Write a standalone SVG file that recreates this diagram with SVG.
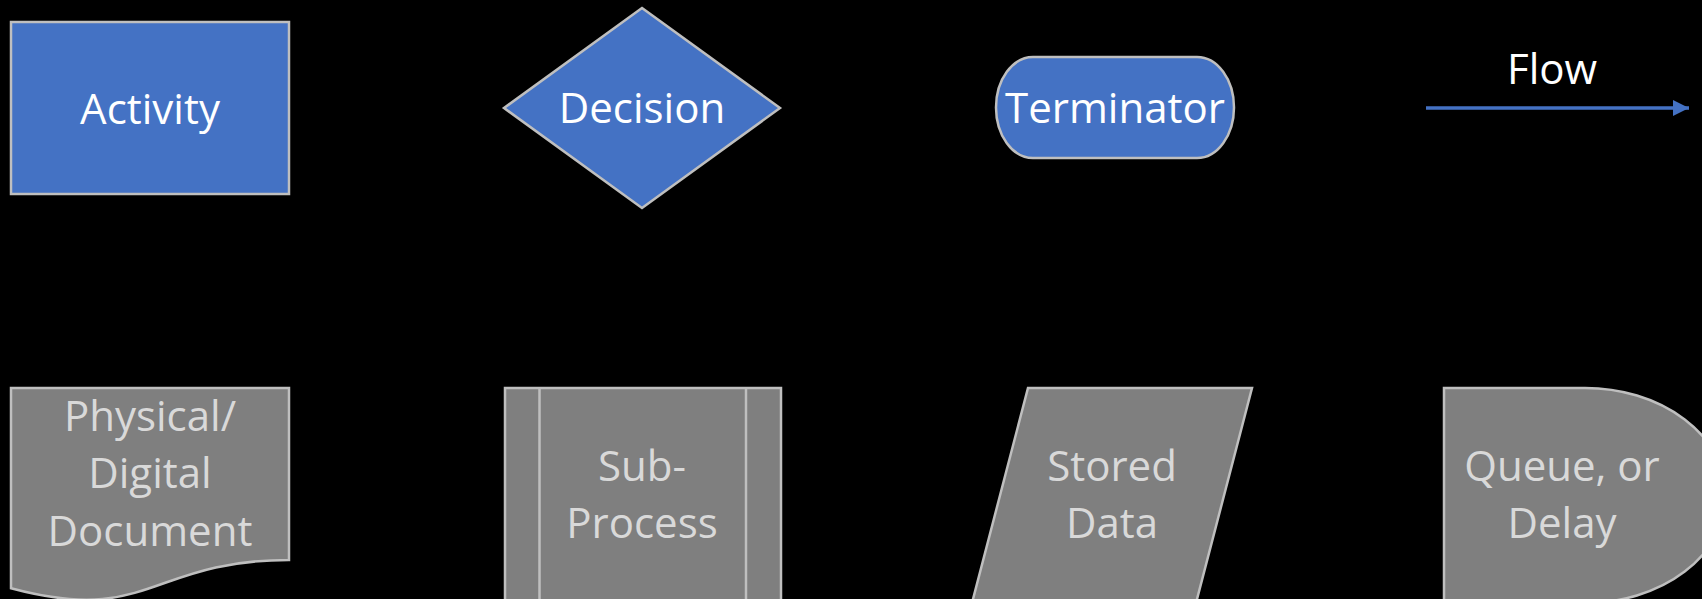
<svg xmlns="http://www.w3.org/2000/svg" width="1702" height="599" viewBox="0 0 1702 599">
  <defs>
    <style>
      .blue { fill: #4472C4; stroke: #BFBFBF; stroke-width: 2.5; }
      .gray { fill: #7F7F7F; stroke: #BFBFBF; stroke-width: 2.5; }
      .rule { stroke: #BFBFBF; stroke-width: 2.5; }
      .lbl { font-family: "Open Sans", "Liberation Sans", sans-serif; font-size: 42px; text-anchor: middle; }
      .lbl-w { fill: #FFFFFF; }
      .lbl-g { fill: #D9D9D9; }
      .flow { stroke: #4472C4; stroke-width: 3.4; fill: none; }
    </style>
    <marker id="arrow" markerUnits="userSpaceOnUse" markerWidth="16" markerHeight="16" refX="16" refY="8" orient="auto" viewBox="0 0 16 16">
      <path d="M0,0 L16,8 L0,16 Z" fill="#4472C4"/>
    </marker>
  </defs>
  <rect width="1702" height="599" fill="#000000"/>

  <!-- top row -->
  <g id="activity">
    <rect class="blue" x="11" y="22" width="278" height="172"/>
    <text class="lbl lbl-w" x="150" y="124">Activity</text>
  </g>
  <g id="decision">
    <path class="blue" d="M642,8 L780,108 L642,208 L504,108 Z"/>
    <text class="lbl lbl-w" x="642" y="123">Decision</text>
  </g>
  <g id="terminator">
    <rect class="blue" x="996" y="57" width="238" height="101" rx="37" ry="50.5"/>
    <text class="lbl lbl-w" x="1115" y="123">Terminator</text>
  </g>
  <g id="flow-label">
    <text class="lbl lbl-w" x="1552" y="84">Flow</text>
  </g>

  <!-- connectors -->
  <g id="connectors">
    <line class="flow" x1="1426" y1="108" x2="1689" y2="108" marker-end="url(#arrow)"/>
  </g>

  <!-- bottom row -->
  <g id="document">
    <path class="gray" d="M11,388 H289 V560 C150,560 150,625.5 11,588.3 Z"/>
    <text class="lbl lbl-g" x="150" y="431">Physical/</text>
    <text class="lbl lbl-g" x="150" y="488">Digital</text>
    <text class="lbl lbl-g" x="150" y="546">Document</text>
  </g>
  <g id="subprocess">
    <rect class="gray" x="505" y="388" width="276" height="215"/>
    <line class="rule" x1="539.5" y1="388" x2="539.5" y2="603"/>
    <line class="rule" x1="746" y1="388" x2="746" y2="603"/>
    <text class="lbl lbl-g" x="642" y="481">Sub-</text>
    <text class="lbl lbl-g" x="642" y="538">Process</text>
  </g>
  <g id="stored-data">
    <path class="gray" d="M1028,388 H1252 L1196,603 H972 Z"/>
    <text class="lbl lbl-g" x="1112" y="481">Stored</text>
    <text class="lbl lbl-g" x="1112" y="538">Data</text>
  </g>
  <g id="delay">
    <path class="gray" d="M1444,388 H1585 A141,107.5 0 0 1 1585,603 H1444 Z"/>
    <text class="lbl lbl-g" x="1562" y="481">Queue, or</text>
    <text class="lbl lbl-g" x="1562" y="538">Delay</text>
  </g>
</svg>
